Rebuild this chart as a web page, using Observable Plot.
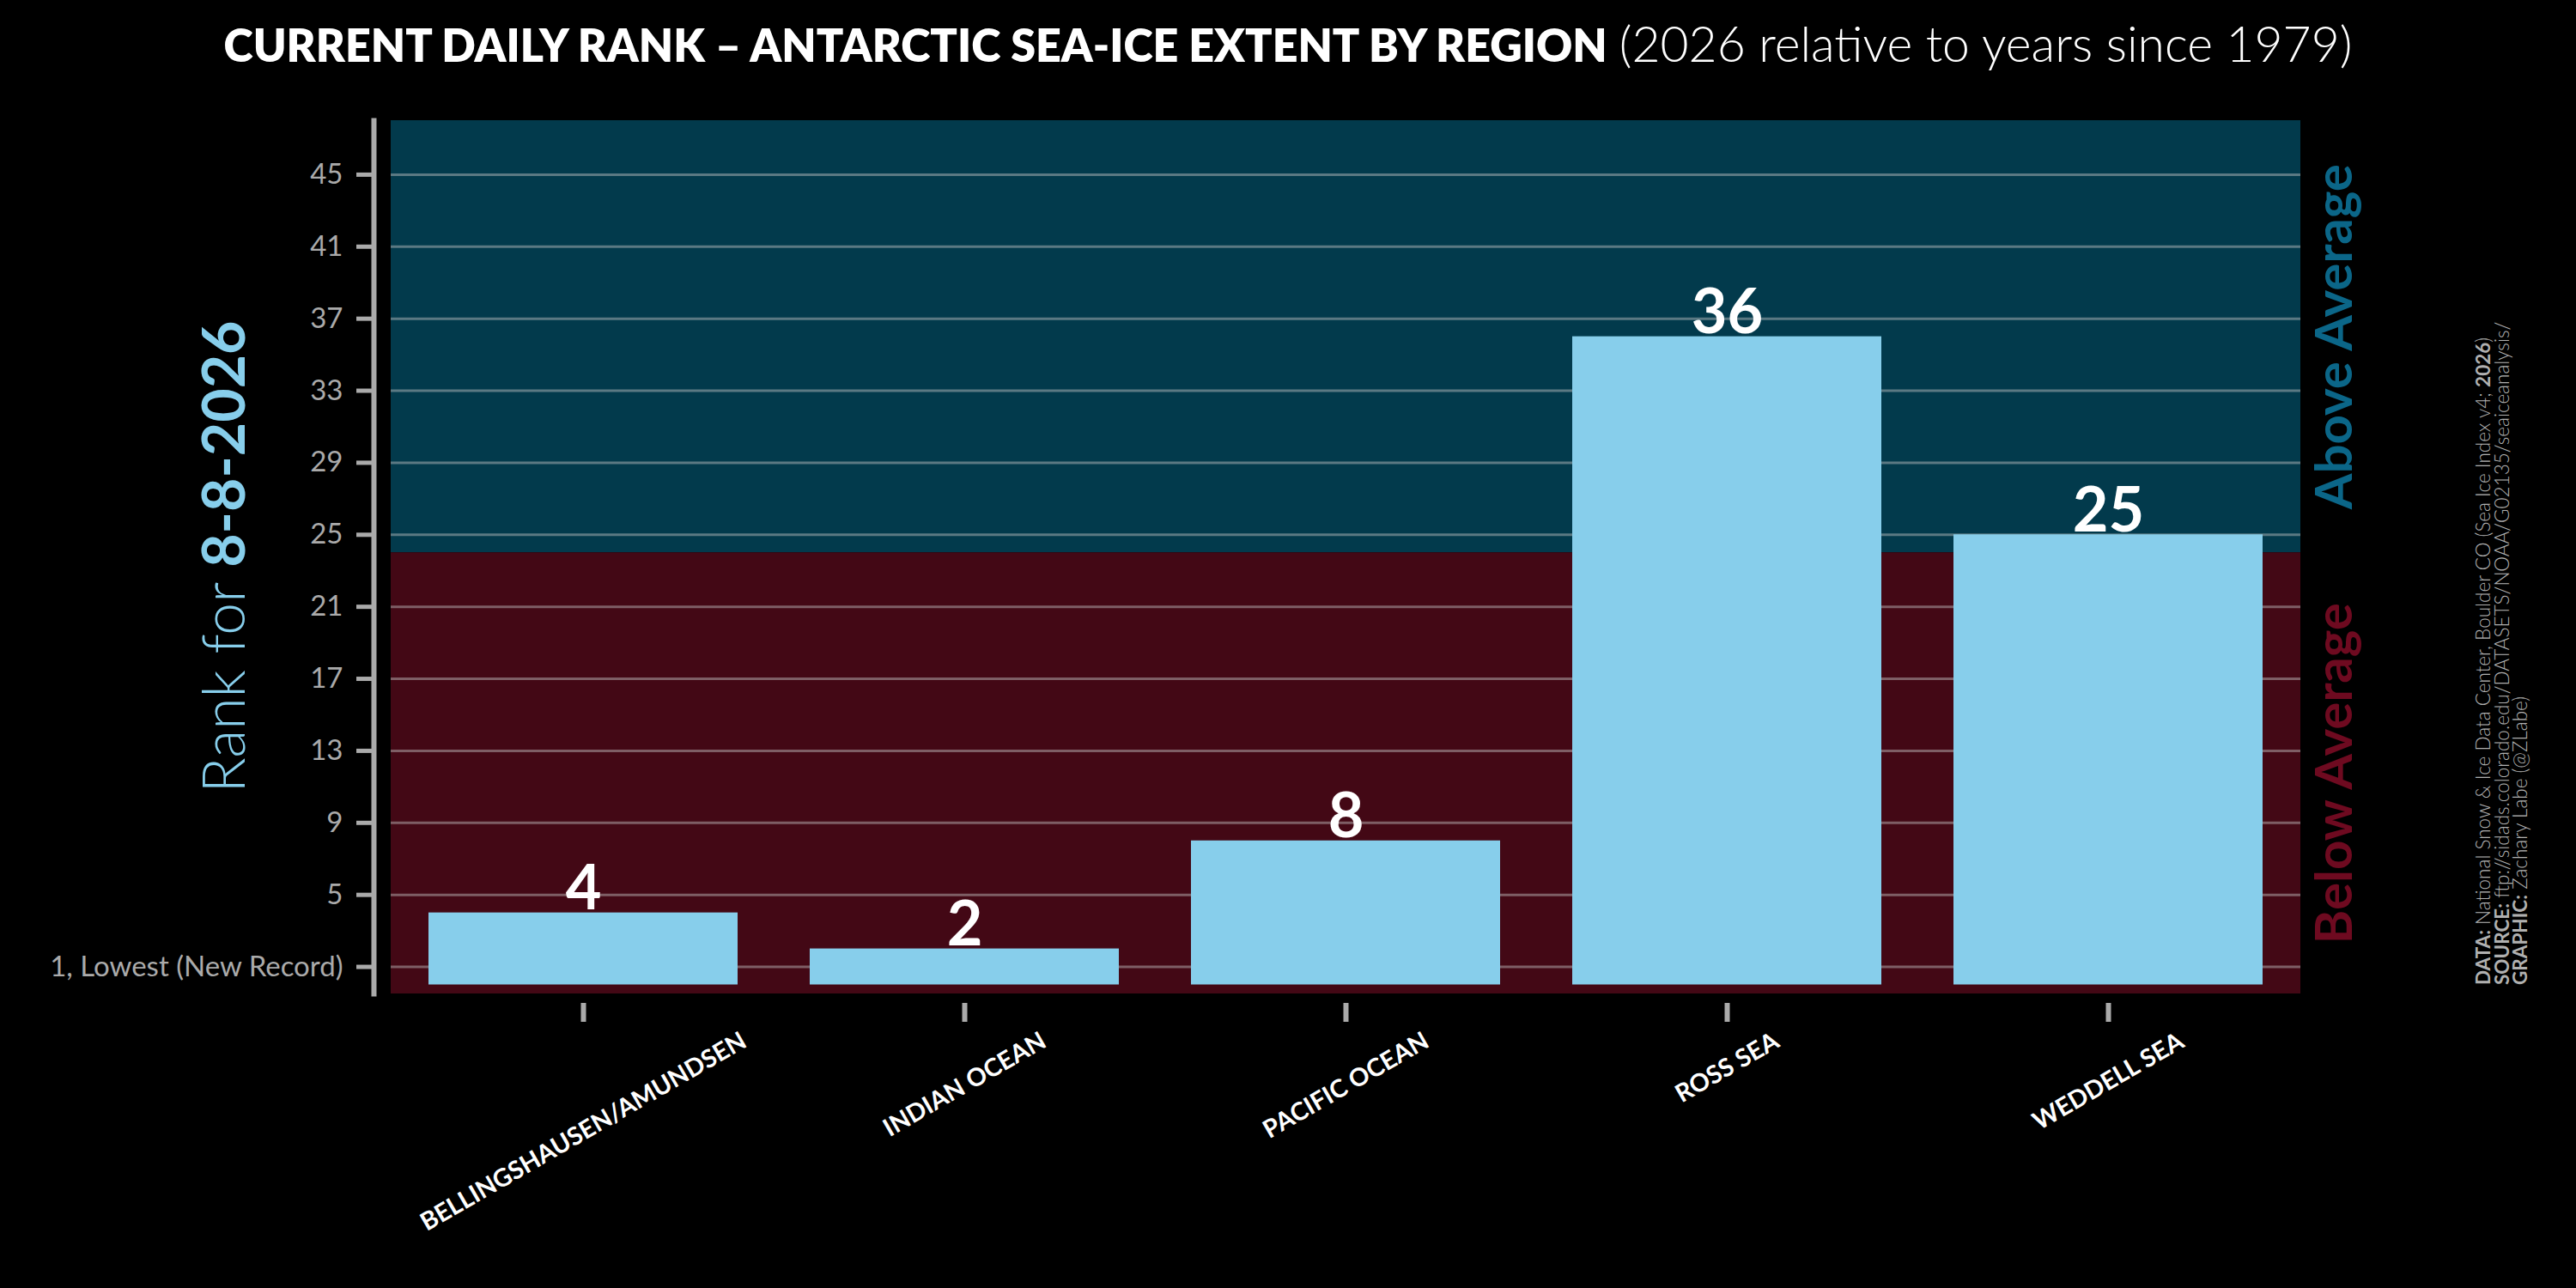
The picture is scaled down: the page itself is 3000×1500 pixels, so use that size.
<!DOCTYPE html>
<html>
<head>
<meta charset="utf-8">
<script src="https://cdn.jsdelivr.net/npm/d3@7"></script>
<script src="https://cdn.jsdelivr.net/npm/@observablehq/plot@0.6"></script>
<style>
  html, body { margin: 0; padding: 0; background: #000; }
  #title { height: 100px; width: 3000px; text-align: center; color: #fff; font-family: Lato, "Open Sans", sans-serif; line-height: 100px; white-space: nowrap; }
  #title b { font-weight: 800; font-size: 52px; }
  #title span { font-weight: 300; font-size: 57px; margin-left: 14px; }
  svg { display: block; }
</style>
</head>
<body>
<div id="title"><b>CURRENT DAILY RANK – ANTARCTIC SEA-ICE EXTENT BY REGION</b><span>(2026 relative to years since 1979)</span></div>
<div id="chart"></div>
<script>
// ---- data ----
const regions = ["BELLINGSHAUSEN/AMUNDSEN", "INDIAN OCEAN", "PACIFIC OCEAN", "ROSS SEA", "WEDDELL SEA"];
const ranks = [4, 2, 8, 36, 25];
const yTicks = [1, 5, 9, 13, 17, 21, 25, 29, 33, 37, 41, 45];
const lowestLabel = "1, Lowest (New Record)";
const averageRank = 24;
const rankDomain = [-0.5, 48];
const dateLabel = "8-8-2026";
const zoneNames = ["Above Average", "Below Average"];
const creditLines = [
  ["DATA:", " National Snow & Ice Data Center, Boulder CO (Sea Ice Index v4; ", "2026", ")"],
  ["SOURCE:", " ftp://sidads.colorado.edu/DATASETS/NOAA/G02135/seaiceanalysis/"],
  ["GRAPHIC:", " Zachary Labe (@ZLabe)"]
];

const FONT = "Lato, 'Open Sans', sans-serif";
const data = regions.map((r, i) => ({region: r, rank: ranks[i]}));
const zones = [
  {name: zoneNames[0], lo: averageRank, hi: rankDomain[1], fill: "#023a4c", text: "#0b6688"},
  {name: zoneNames[1], lo: rankDomain[0], hi: averageRank, fill: "#430815", text: "#6e0a20"}
];

// measure x label widths to align the top of the rotated labels
const ctx = document.createElement("canvas").getContext("2d");
const xFont = 29;
ctx.font = `bold ${xFont}px Lato`;
const angle = 30 * Math.PI / 180;
function labelDy(s) {
  const w = ctx.measureText(s).width;
  return 40 + (w / 2) * Math.sin(angle) + (xFont / 2) * Math.cos(angle);
}

const W = 3000, H = 1400;
const chart = Plot.plot({
  width: W,
  height: H,
  marginTop: 40,
  marginBottom: 343,
  marginLeft: 455,
  marginRight: 321,
  style: {background: "#000", color: "#fff", fontFamily: FONT},
  x: {domain: regions, paddingInner: 0.19, paddingOuter: 0.095, label: null},
  y: {domain: rankDomain, label: null},
  marks: [
    Plot.rect(zones, {y1: "lo", y2: "hi", fill: "fill"}),
    Plot.ruleY(yTicks, {stroke: "#c8c8c8", strokeOpacity: 0.45, strokeWidth: 3}),
    Plot.barY(data, {x: "region", y: "rank", fill: "#87ceeb"}),
    Plot.text(data, {x: "region", y: "rank", text: d => String(d.rank), lineAnchor: "bottom", dy: -4,
      fill: "#fff", fontSize: 72, fontWeight: "bold"}),
    Plot.axisY({ticks: yTicks, tickFormat: d => d === 1 ? lowestLabel : String(d), tickSize: 20, tickPadding: 16,
      dx: -20, stroke: "#aaaaaa", fill: "#aaaaaa", strokeWidth: 5, fontSize: 33, label: null}),
    Plot.frame({anchor: "left", dx: -20, stroke: "#aaaaaa", strokeWidth: 6}),
    Plot.axisX({tickSize: 22, dy: 11, stroke: "#aaaaaa", strokeWidth: 6, tickFormat: () => "", label: null}),
    ...regions.map(r => Plot.text([r], {x: d => d, frameAnchor: "bottom", text: d => d, rotate: -30,
      textAnchor: "middle", lineAnchor: "middle",
      dy: labelDy(r), fill: "#fff", fontSize: xFont, fontWeight: "bold"})),
    ...zones.map(z => Plot.text([z], {y: d => (d.lo + d.hi) / 2, frameAnchor: "right", text: "name", rotate: -90,
      textAnchor: "middle", lineAnchor: "middle",
      dx: 40, fill: z.text, fontSize: 60, fontWeight: "bold"}))
  ]
});

document.getElementById("chart").appendChild(chart);

// mixed-weight annotation texts
const svg = d3.select(chart);
const midY = (40 + (H - 343)) / 2;
const ylab = svg.append("text")
  .attr("transform", `translate(285,${midY}) rotate(-90)`)
  .attr("text-anchor", "middle")
  .attr("fill", "#87ceeb")
  .attr("font-family", FONT)
  .attr("font-size", 68);
ylab.append("tspan").attr("font-weight", 300).text("Rank for ");
ylab.append("tspan").attr("font-weight", "bold").text(dateLabel);

const credit = svg.append("g")
  .attr("font-family", FONT)
  .attr("font-size", 22.5)
  .attr("fill", "#b0b0b0");
creditLines.forEach((parts, i) => {
  const t = credit.append("text")
    .attr("transform", `translate(${2900 + i * 21.5},${H - 353}) rotate(-90)`)
    .attr("text-anchor", "start");
  parts.forEach((p, j) => {
    const bold = j === 0 || p === "2026";
    t.append("tspan").attr("font-weight", bold ? "bold" : 300).text(p);
  });
});
</script>
</body>
</html>
